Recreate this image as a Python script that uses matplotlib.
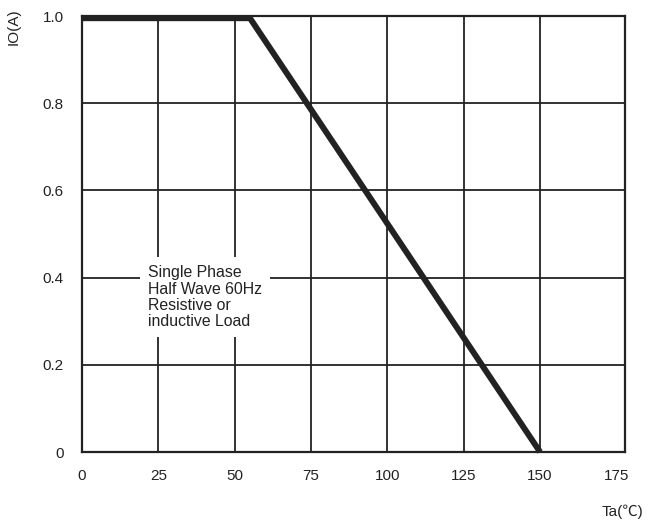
import matplotlib
matplotlib.use("Agg")
import matplotlib.pyplot as plt

# derating curve: ambient temperature vs average forward current
ta = [0, 55, 150]
io = [0.995, 0.995, 0.0]

x_ticks = [0, 25, 50, 75, 100, 125, 150, 175]
y_ticks = [0, 0.2, 0.4, 0.6, 0.8, 1.0]
y_labels = ["0", "0.2", "0.4", "0.6", "0.8", "1.0"]

note = "Single Phase\nHalf Wave 60Hz\nResistive or\ninductive Load"

plt.rcParams['font.family'] = ['Liberation Sans', 'Noto Sans CJK SC', 'DejaVu Sans']

fig = plt.figure(figsize=(6.49, 5.27), dpi=100)
ax = fig.add_axes([82/649, 1 - 452/527, (625-82)/649, (452-16)/527])

ax.set_xlim(0, 177.8)
ax.set_ylim(0, 1.0)

# grid drawn by hand so the 175 column can stay a bit wider like the original
for xv in x_ticks[1:-1]:
    ax.axvline(xv, color="#222222", lw=1.3, zorder=1)
for yv in y_ticks[1:-1]:
    ax.axhline(yv, color="#222222", lw=1.3, zorder=1)

ax.plot(ta, io, color="#222222", lw=4.3, solid_capstyle="butt", zorder=4, clip_on=False)

ax.text(21.6, 0.428, note, fontsize=11.4, va="top", ha="left", linespacing=1.1,
        color="#222222", zorder=3,
        bbox=dict(boxstyle="square,pad=0.5", facecolor="white", edgecolor="none"))

ax.set_xticks(x_ticks)
ax.set_xticklabels([str(v) for v in x_ticks])
ax.set_yticks(y_ticks)
ax.set_yticklabels(y_labels)
ax.tick_params(axis="both", length=0, labelsize=11, colors="#222222")
ax.tick_params(axis="x", pad=12)
ax.tick_params(axis="y", pad=13)

for s in ax.spines.values():
    s.set_linewidth(1.6)
    s.set_color("#222222")

fig.text(14/649, 1 - 27/527, "IO(A)", rotation=90, fontsize=11, ha="center", va="center",
         color="#222222")
fig.text(622/649, 1 - 512/527, "Ta(℃)", fontsize=11, ha="center", va="center",
         color="#222222")

fig.savefig("out.png", dpi=100)
